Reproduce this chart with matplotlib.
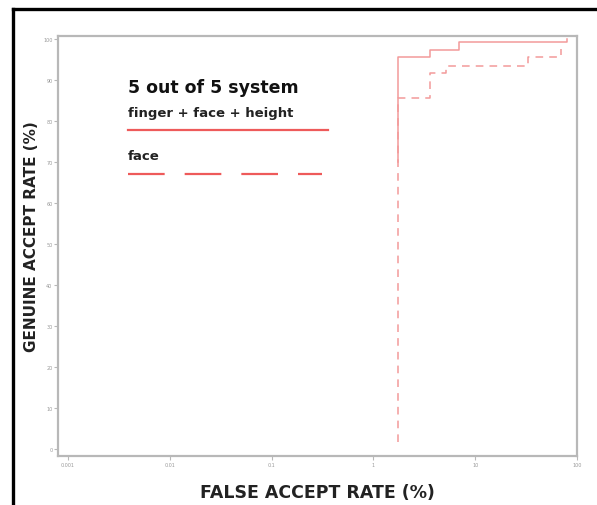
import matplotlib
matplotlib.use("Agg")
import matplotlib.pyplot as plt
from matplotlib.lines import Line2D

# data (FAR in %, GAR in %)
fusion_far = [1.75, 1.75, 3.6, 3.6, 7.0, 7.0, 80, 80]
fusion_gar = [70, 95.5, 95.5, 97.4, 97.4, 99.3, 99.3, 100]
face_far = [1.75, 1.75, 3.6, 3.6, 5.2, 5.2, 33, 33, 70, 70]
face_gar = [1.7, 85.6, 85.6, 91.8, 91.8, 93.5, 93.5, 95.5, 95.5, 97.5]

x_ticks = [0.001, 0.01, 0.1, 1, 10, 100]
x_labels = ["0.001", "0.01", "0.1", "1", "10", "100"]
y_ticks = [0, 10, 20, 30, 40, 50, 60, 70, 80, 90, 100]

curve_col = "#f39a9a"
legend_col = "#ee5a5a"
grey = "#b8b8b8"

fig = plt.figure(figsize=(5.97, 5.06), dpi=100)
ax = fig.add_axes([58/597, 1 - 457/506, (577 - 58)/597, (457 - 37)/506])

ax.plot(fusion_far, fusion_gar, color=curve_col, lw=1.1)
ax.plot(face_far, face_gar, color=curve_col, lw=1.1, dashes=(5, 4))

ax.set_xscale("log")
ax.set_xlim(0.0008, 100)
ax.set_ylim(-1.7, 100.7)
ax.set_xticks(x_ticks)
ax.set_xticklabels(x_labels)
ax.minorticks_off()
ax.set_yticks(y_ticks)
ax.tick_params(colors=grey, labelcolor="#999999", labelsize=3.5, length=3, width=0.8, pad=1)
for s in ax.spines.values():
    s.set_color(grey)
    s.set_linewidth(1.6)

fig.text(32/597, 1 - 237/506, "GENUINE ACCEPT RATE (%)", rotation=90, ha="center", va="center",
         fontsize=11, fontweight="bold", color="#222222")
fig.text(317/597, 1 - 493/506, "FALSE ACCEPT RATE (%)", ha="center", va="center",
         fontsize=12.5, fontweight="bold", color="#222222")

# legend block
fig.text(128/597, 1 - 88/506, "5 out of 5 system", ha="left", va="center",
         fontsize=12.5, fontweight="bold", color="#111111")
fig.text(128/597, 1 - 114/506, "finger + face + height", ha="left", va="center",
         fontsize=9.5, color="#222222", fontweight="bold")
fig.text(128/597, 1 - 157/506, "face", ha="left", va="center",
         fontsize=9.5, color="#222222", fontweight="bold")
fig.add_artist(Line2D([128/597, 328/597], [1 - 131/506] * 2, color=legend_col, lw=1.6))
fig.add_artist(Line2D([128/597, 322/597], [1 - 175/506] * 2, color=legend_col, lw=1.6,
                      dashes=(16.5, 9)))

# outer frame of the picture
fig.add_artist(Line2D([13/597, 1], [1 - 10/506] * 2, color="black", lw=2.4))
fig.add_artist(Line2D([13/597] * 2, [0, 1 - 10/506], color="black", lw=2.4))

fig.savefig("out.png", dpi=100)
